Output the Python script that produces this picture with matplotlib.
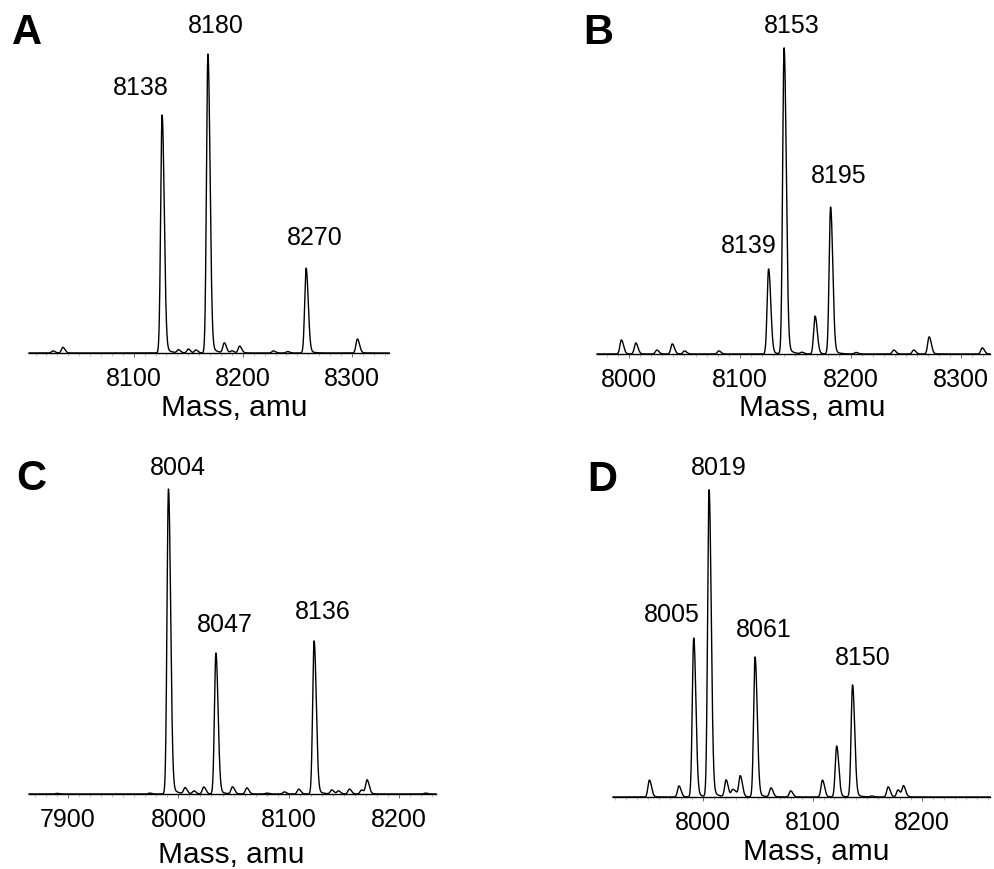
import numpy as np
import matplotlib.pyplot as plt
from matplotlib.ticker import MultipleLocator

plt.rcParams['font.family'] = ['Liberation Sans', 'DejaVu Sans']

# labelled peaks: observed mass and relative intensity (% of base peak)
a_mass = [8138, 8180, 8270]
a_int = [79.6, 100, 28.4]
b_mass = [8139, 8153, 8195]
b_int = [27.8, 100, 48.0]
c_mass = [8004, 8047, 8136]
c_int = [100, 46.2, 50.2]
d_mass = [8005, 8019, 8061, 8150]
d_int = [51.8, 100, 45.6, 36.5]

# offset between labelled mass and the scan axis
shift = {'A': 12, 'B': 13, 'C': 13, 'D': 13.5}

# unlabelled minor peaks (axis position, % intensity)
a_minor_x = [8026, 8035, 8141, 8150, 8157, 8183, 8190, 8197, 8228, 8241, 8305]
a_minor_y = [0.7, 1.9, 1.0, 1.3, 1.0, 3.3, 0.7, 2.3, 0.7, 0.5, 4.7]
b_minor_x = [7993, 8006, 8025, 8039, 8050, 8081, 8156, 8168, 8205, 8239, 8257, 8271, 8319]
b_minor_y = [4.6, 3.6, 1.3, 3.3, 1.0, 1.0, 0.5, 12.4, 0.5, 1.3, 1.3, 5.6, 2.0]
c_minor_x = [7890, 7974, 8006, 8014, 8023, 8049, 8062, 8080, 8096, 8109, 8139, 8145, 8155, 8166, 8171, 8224]
c_minor_y = [0.2, 0.3, 2.0, 1.0, 2.3, 2.3, 2.0, 0.3, 0.7, 1.6, 1.3, 1.0, 1.6, 1.3, 4.6, 0.3]
d_minor_x = [7951, 7978, 8021, 8027, 8030, 8034, 8062, 8080, 8109, 8122, 8154, 8169, 8178, 8183]
d_minor_y = [5.5, 3.6, 5.5, 2.3, 1.0, 6.8, 2.9, 2.0, 5.5, 16.6, 0.3, 3.3, 2.3, 3.6]

# x ranges of each panel
xlims = {'A': (8004, 8334), 'B': (7971, 8326), 'C': (7864.6, 8233.5), 'D': (7917.8, 8262)}
xticks = {'A': [8100, 8200, 8300], 'B': [8000, 8100, 8200, 8300],
          'C': [7900, 8000, 8100, 8200], 'D': [8000, 8100, 8200]}

# label nudges in pixels (dx, dy above the peak top)
a_off = [(-21, 15), (8, 16), (9, 18)]
b_off = [(-20, 11), (8, 10), (8, 19)]
c_off = [(9, 9), (9, 16), (9, 17)]
d_off = [(-22, 11), (10, 10), (9, 15), (10, 15)]

W, H = 995, 869


def peak(x, x0, h):
    # slightly tailing peak shape
    s = np.where(x < x0, 1.3, 1.9)
    y = h * np.exp(-0.5 * ((x - x0) / s) ** 2)
    tail = np.where(x > x0, 0.05 * h * np.exp(-(x - x0) / 4.0), 0) * (1 - np.exp(-((x - x0) / 1.5) ** 2))
    return y + tail


def spectrum(x, centers, heights):
    y = np.zeros_like(x)
    for c, h in zip(centers, heights):
        y += peak(x, c, h)
    return y


fig = plt.figure(figsize=(W / 100, H / 100), dpi=100)

panels = [
    ('A', a_mass, a_int, a_minor_x, a_minor_y, a_off, (29, 389, 353, 54), (12, 44)),
    ('B', b_mass, b_int, b_minor_x, b_minor_y, b_off, (597, 990, 354, 48), (583, 44)),
    ('C', c_mass, c_int, c_minor_x, c_minor_y, c_off, (29, 436, 794, 489), (16, 490)),
    ('D', d_mass, d_int, d_minor_x, d_minor_y, d_off, (613, 990, 797, 490), (587, 491)),
]
xlabel_x = {'A': 234, 'B': 812, 'C': 231, 'D': 816}
xlabel_y = {'A': 416, 'B': 416, 'C': 863, 'D': 860}

for name, mass, inten, mx, my, offs, (x0, x1, yb, yt), (lx, ly) in panels:
    ax = fig.add_axes([x0 / W, 1 - yb / H, (x1 - x0) / W, (yb - yt) / H])
    lo, hi = xlims[name]
    x = np.linspace(lo, hi, 6000)
    pos = [m - shift[name] for m in mass]
    y = spectrum(x, pos + mx, inten + my)
    ax.plot(x, y, color='black', lw=1.0, clip_on=False)
    ax.set_xlim(lo, hi)
    ax.set_ylim(0, 100)

    for m, p, h, (dx, dy) in zip(mass, pos, inten, offs):
        ax.annotate(str(m), (p, h), xytext=(dx, dy), textcoords='offset pixels',
                    ha='center', va='bottom', fontsize=18)

    for s in ['top', 'right', 'left']:
        ax.spines[s].set_visible(False)
    ax.spines['bottom'].set_linewidth(1.0)
    ax.set_yticks([])
    ax.set_xticks(xticks[name])
    ax.xaxis.set_minor_locator(MultipleLocator(10))
    ax.tick_params(axis='x', which='major', length=3, width=0.6, color='#555555',
                   pad=7, labelsize=18)
    ax.tick_params(axis='x', which='minor', length=2, width=0.4, color='#999999')
    ax.patch.set_alpha(0)

    fig.text(xlabel_x[name] / W, 1 - xlabel_y[name] / H, 'Mass, amu',
             ha='center', va='baseline', fontsize=21.5)
    fig.text(lx / W, 1 - ly / H, name, ha='left', va='baseline',
             fontsize=30, fontweight='bold')

fig.savefig('out.png', dpi=100)
